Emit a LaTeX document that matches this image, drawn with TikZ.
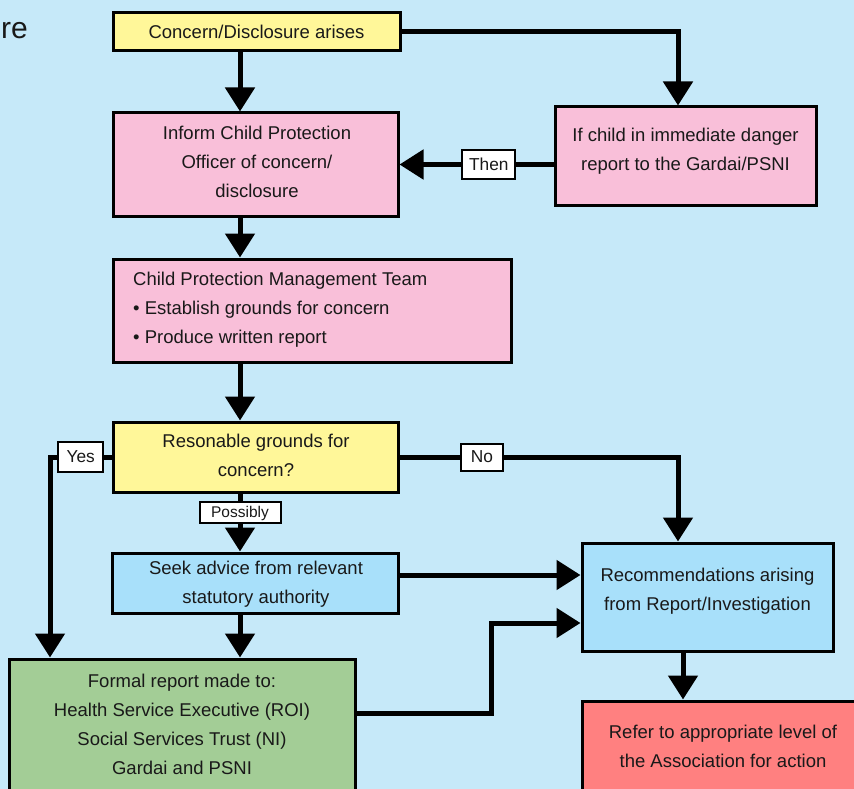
\documentclass[tikz,border=0pt]{standalone}
\usepackage{fontspec}
\setmainfont{Liberation Sans}
\usetikzlibrary{arrows.meta,calc}
\definecolor{bg}{RGB}{198,233,249}
\definecolor{yel}{RGB}{255,247,153}
\definecolor{pnk}{RGB}{249,191,217}
\definecolor{lblue}{RGB}{168,224,250}
\definecolor{grn}{RGB}{163,205,150}
\definecolor{rd}{RGB}{255,128,128}
\definecolor{ink}{RGB}{25,25,25}
\begin{document}
\begin{tikzpicture}[x=1pt,y=-1pt,
  box/.style={draw=black,line width=3pt,inner sep=0pt,align=center,text=ink,font=\fontsize{18.5}{29}\selectfont},
  txt/.style={inner sep=0pt,align=center,text=ink,font=\fontsize{18.5}{29}\selectfont},
  lab/.style={draw=black,line width=2pt,fill=white,inner sep=0pt,text=ink,font=\fontsize{17.3}{17.3}\selectfont},
  conn/.style={line width=5pt,-{Triangle[width=29pt,length=24pt]}}]
\clip (0,0) rectangle (854,789);
\fill[bg] (0,0) rectangle (854,789);

\node[anchor=base east,text=ink,font=\fontsize{30}{30}\selectfont,inner sep=0pt] (re) at (28,39) {re};

\node[box,fill=yel,minimum width=287pt,minimum height=38pt] (c1) at (256.5,31.5) {Concern/Disclosure arises};
\node[box,fill=pnk,minimum width=285pt,minimum height=103pt] (inform) at (255.5,164.5) {};
\node[txt] (informt) at (257,161.5) {Inform Child Protection\\Officer of concern/\\disclosure};
\node[box,fill=pnk,minimum width=261pt,minimum height=98pt] (danger) at (685.5,156) {};
\node[txt] (dangert) at (685.5,151.5) {If child in immediate danger\\report to the Gardai/PSNI};
\node[box,fill=pnk,minimum width=398pt,minimum height=103pt] (cpmt) at (312,310.5) {};
\node[txt,anchor=west,align=left] (cpmtt) at (133,310) {Child Protection Management Team\\\textbullet\ Establish grounds for concern\\\textbullet\ Produce written report};
\node[box,fill=yel,minimum width=285pt,minimum height=70pt] (reason) at (255.5,457) {};
\node[txt] (reasont) at (256,455.5) {Resonable grounds for\\concern?};
\node[box,fill=lblue,minimum width=286pt,minimum height=60pt] (seek) at (255,583) {};
\node[txt] (seekt) at (256,584) {Seek advice from relevant\\statutory authority};
\node[box,fill=lblue,minimum width=251pt,minimum height=108pt] (recom) at (707.5,597) {};
\node[txt] (recomt) at (707.5,591.5) {Recommendations arising\\from Report/Investigation};
\node[box,fill=grn,minimum width=346pt,minimum height=150pt] (formal) at (182,734) {};
\node[txt] (formalt) at (182,724) {Formal report made to:\\Health Service Executive (ROI)\\Social Services Trust (NI)\\Gardai and PSNI};
\node[box,fill=rd,minimum width=282pt,minimum height=120pt] (refer) at (723,761) {};
\node[txt] (refert) at (723,746) {Refer to appropriate level of\\the Association for action};

\coordinate (colL) at (240,0);
\coordinate (colR) at (678,0);
\coordinate (colY) at (50,0);
\coordinate (colS) at (683,0);
\coordinate (rowA) at (0,575);
\coordinate (rowB) at (0,623);
\coordinate (colM) at (491,713);

\draw[conn] (c1.south -| colL) -- (inform.north -| colL);
\draw[conn] (c1.east) -| (danger.north -| colR);
\draw[conn] (danger.west |- inform.east) -- (inform.east) node[lab,pos=0.42,minimum width=53pt,minimum height=28pt]{Then};
\draw[conn] (inform.south -| colL) -- (cpmt.north -| colL);
\draw[conn] (cpmt.south -| colL) -- (reason.north -| colL);
\draw[conn] (reason.west) -| (formal.north -| colY) node[lab,pos=0.25,minimum width=45pt,minimum height=30pt]{Yes};
\draw[conn] (reason.east) -| (recom.north -| colR) node[lab,pos=0.148,minimum width=42pt,minimum height=27pt]{No};
\draw[conn] (reason.south -| colL) -- (seek.north -| colL) node[lab,pos=0.336,minimum width=81pt,minimum height=21pt,font=\fontsize{15.5}{15.5}\selectfont]{Possibly};
\draw[conn] (seek.east |- rowA) -- (recom.west |- rowA);
\draw[conn] (seek.south -| colL) -- (formal.north -| colL);
\draw[conn] (formal.east |- colM) -| (colM |- rowB) -- (recom.west |- rowB);
\draw[conn] (recom.south -| colS) -- (refer.north -| colS);
\end{tikzpicture}
\end{document}
